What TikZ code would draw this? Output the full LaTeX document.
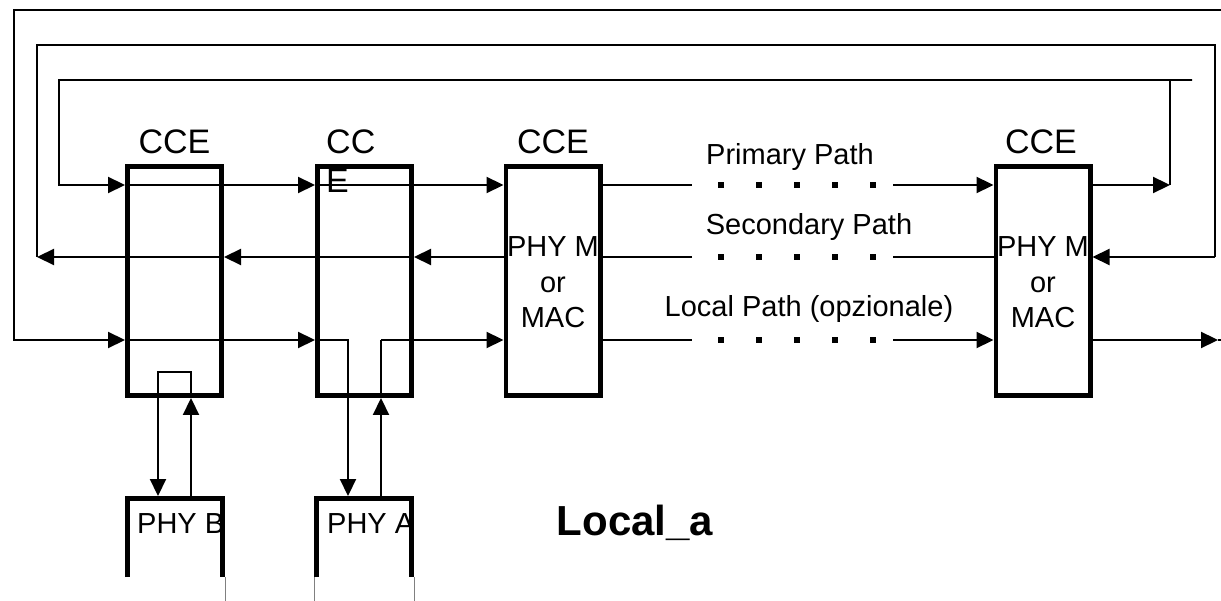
\documentclass[tikz,border=0pt]{standalone}
\usepackage{fontspec}
\setmainfont{Liberation Sans}
\usetikzlibrary{arrows.meta,calc}
\begin{document}
\begin{tikzpicture}[x=1pt,y=-1pt,
  cce/.style={draw, line width=4.7pt, inner sep=0pt, outer sep=2.35pt,
    minimum width=94.3pt, minimum height=229.3pt},
  frame/.style={inner sep=0pt, outer sep=0pt, minimum width=95.3pt, minimum height=78.65pt},
  boxline/.style={line width=4.7pt},
  ln/.style={line width=2.2pt},
  arr/.style={ln, -{Triangle[length=17pt,width=16pt]}},
  lab/.style={font=\fontsize{34}{39}\selectfont, inner sep=0pt},
  txt/.style={font=\fontsize{29}{35.5}\selectfont, inner sep=0pt},
  edge line/.style={gray, line width=0.8pt}]
\useasboundingbox (0,0) rectangle (1221,601);

% row levels
\coordinate (yP) at (0,185);
\coordinate (yS) at (0,257);
\coordinate (yL) at (0,340);

% CCE boxes
\node[cce] (box1) at (174.5,281) {};
\node[cce] (box2) at (364.5,281) {};
\node[cce] (box3) at (553,281) {};
\node[cce] (box4) at (1043,281) {};

% PHY frames (open at the bottom)
\node[frame] (phyB) at (175,537.675) {};
\node[frame] (phyA) at (364,537.675) {};

% labels
\node[lab, anchor=base] (t1) at ($(box1.north)+(0,-10)$) {CCE};
\node[lab, anchor=base west, align=left] (t2) at (326,193) {CC\\E};
\node[lab, anchor=base] (t3) at ($(box3.north)+(0,-10)$) {CCE};
\node[lab, anchor=base] (t4) at ($(box4.north)+(-2,-10)$) {CCE};
\node[txt, align=center, anchor=base] (m3) at (553,328) {PHY M\\or\\MAC};
\node[txt, align=center, anchor=base] (m4) at (1043,328) {PHY M\\or\\MAC};
\node[txt, anchor=base] (lp) at (790,165) {Primary Path};
\node[txt, anchor=base] (ls) at (809,235) {Secondary Path};
\node[txt, anchor=base] (ll) at (809,317) {Local Path (opzionale)};
\node[txt, anchor=base west] (tb) at (137,533) {PHY B};
\node[txt, anchor=base west] (ta) at (327,533) {PHY A};
\node[font=\fontsize{42}{48}\selectfont\bfseries, inner sep=0pt, anchor=base] (la) at (635,535) {Local\_a};

% PHY frames drawing
\draw[boxline] (phyB.south west) |- (phyB.north east) -- (phyB.south east);
\draw[boxline] (phyA.south west) |- (phyA.north east) -- (phyA.south east);
\draw[edge line] ($(phyB.south east)+(2.35,0)$) -- +(0,24);
\draw[edge line] ($(phyA.south west)+(-2.35,0)$) -- +(0,24);
\draw[edge line] ($(phyA.south east)+(2.35,0)$) -- +(0,24);

% helper coordinates
\coordinate (d1) at (158,372);
\coordinate (u1) at (191,372);
\coordinate (d2) at (348,340);
\coordinate (u2) at (381,340);
\coordinate (gapL) at (692,0);
\coordinate (gapR) at (893,0);
\coordinate (pTip) at (1170,185);
\coordinate (pR) at (1192,80);
\coordinate (pL) at (59,80);
\coordinate (sL) at (37,257);
\coordinate (sR) at (1215,45);
\coordinate (oR) at (1221,10);
\coordinate (oL) at (14,340);
\coordinate (lTip) at (1218,340);
\coordinate (lEnd) at (1221,340);

% primary path
\draw[arr] (pTip) -- (pTip |- pR) -- (pR) -- (pL) -- (pL |- yP) -- (box1.west |- yP);
\draw[arr] (box1.west |- yP) -- (box2.west |- yP);
\draw[arr] (box2.west |- yP) -- (box3.west |- yP);
\draw[ln] (box3.east |- yP) -- (gapL |- yP);
\draw[arr] (gapR |- yP) -- (box4.west |- yP);
\draw[arr] (box4.east |- yP) -- (pTip);

% secondary path
\draw[arr] (sR |- yS) -- (box4.east |- yS);
\draw[ln] (box4.west |- yS) -- (gapR |- yS);
\draw[ln] (gapL |- yS) -- (box3.east |- yS);
\draw[arr] (box3.west |- yS) -- (box2.east |- yS);
\draw[arr] (box2.east |- yS) -- (box1.east |- yS);
\draw[arr] (box1.east |- yS) -- (sL);
\draw[ln] (sL) -- (sL |- sR) -- (sR) -- (sR |- yS);

% local path
\draw[arr] (oR) -- (oL |- oR) -- (oL) -- (box1.west |- yL);
\draw[arr] (box1.west |- yL) -- (box2.west |- yL);
\draw[arr, shorten >=2.35pt] (box2.west |- yL) -- (d2) -- (phyA.north -| d2);
\draw[arr] (phyA.north -| u2) -- (box2.south -| u2);
\draw[ln] (box2.south -| u2) -- (u2);
\draw[arr] (u2) -- (box3.west |- yL);
\draw[ln] (box3.east |- yL) -- (gapL |- yL);
\draw[arr] (gapR |- yL) -- (box4.west |- yL);
\draw[arr] (box4.east |- yL) -- (lTip);
\draw[ln] (lTip) -- (lEnd);

% local loop to PHY B
\draw[arr] (phyB.north -| u1) -- (box1.south -| u1);
\draw[arr, shorten >=2.35pt] (box1.south -| u1) -- (u1) -- (d1) -- (phyB.north -| d1);

% dotted gaps
\foreach \x in {721,759,797,835,873}
  \foreach \y in {185,257,340}
    \fill (\x-3.3,\y-3.3) rectangle +(6.6,6.6);
\end{tikzpicture}
\end{document}
